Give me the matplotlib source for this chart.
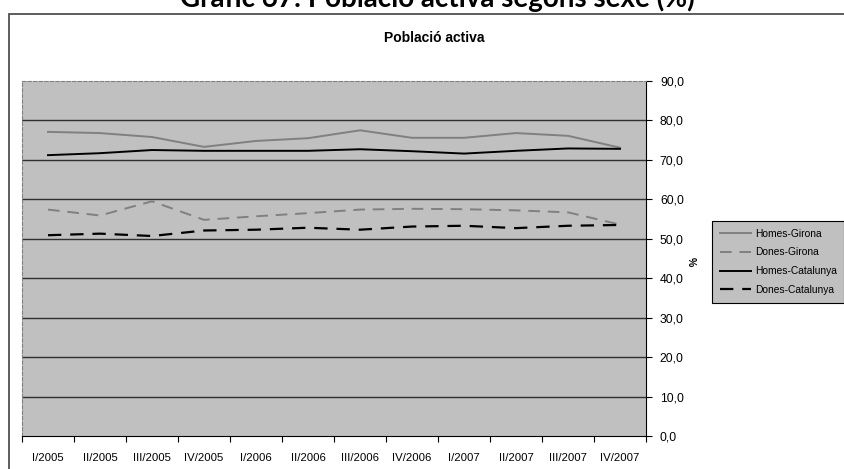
import matplotlib
matplotlib.use("Agg")
import matplotlib.pyplot as plt
from matplotlib.patches import Rectangle
import numpy as np

quarters = ["I/2005", "II/2005", "III/2005", "IV/2005", "I/2006", "II/2006",
            "III/2006", "IV/2006", "I/2007", "II/2007", "III/2007", "IV/2007"]
homes_girona = [77.1, 76.8, 75.8, 73.3, 74.8, 75.5, 77.5, 75.6, 75.6, 76.8, 76.1, 73.1]
dones_girona = [57.4, 55.9, 59.5, 54.8, 55.7, 56.5, 57.4, 57.6, 57.5, 57.2, 56.7, 53.6]
homes_cat = [71.2, 71.7, 72.5, 72.3, 72.3, 72.3, 72.7, 72.2, 71.6, 72.3, 72.9, 72.8]
dones_cat = [50.9, 51.3, 50.7, 52.1, 52.3, 52.8, 52.3, 53.1, 53.3, 52.7, 53.3, 53.5]
yticks = np.arange(0, 100, 10)

W, H = 845, 469
fig = plt.figure(figsize=(W / 100, H / 100), dpi=100)
fig.patch.set_facecolor("white")

# outer chart frame
fig.patches.append(Rectangle((9 / W, -0.01), 1.0, (H - 14) / H + 0.01,
                             transform=fig.transFigure, fill=False,
                             edgecolor="#505050", linewidth=1.3))

fig.text(437 / W, 1 - 7 / H, "Gràfic 67: Població activa segons sexe (%)",
         ha="center", va="baseline", fontsize=20, fontweight="bold", family="Lato")
fig.text(434 / W, 1 - 38.5 / H, "Població activa", ha="center", va="center",
         fontsize=10, fontweight="bold", family="Liberation Sans")

ax = fig.add_axes([22 / W, 33 / H, (646 - 22) / W, (436 - 81) / H])
ax.set_facecolor("#c0c0c0")
x = np.arange(len(quarters))

ax.plot(x, homes_girona, color="#808080", lw=1.4, label="Homes-Girona")
ax.plot(x, dones_girona, color="#808080", lw=1.4, ls=(0, (6, 4)), label="Dones-Girona")
ax.plot(x, homes_cat, color="black", lw=1.4, label="Homes-Catalunya")
ax.plot(x, dones_cat, color="black", lw=1.6, ls=(0, (6, 4)), label="Dones-Catalunya")

for v in yticks[1:-1]:
    ax.axhline(v, color="#303030", lw=1.0, zorder=0.5)

ax.set_xlim(-0.5, len(quarters) - 0.5)
ax.set_ylim(0, 90)
ax.set_xticks(np.arange(-0.5, len(quarters), 1.0))
ax.set_xticklabels([])
ax.set_xticks(x, minor=True)
ax.set_xticklabels(quarters, minor=True, fontsize=8.2, family="Liberation Sans")
ax.tick_params(axis="x", which="major", length=4, direction="out", width=0.8)
ax.tick_params(axis="x", which="minor", length=0, pad=12)

ax.yaxis.tick_right()
ax.set_yticks(yticks)
ax.set_yticklabels([f"{v:.1f}".replace(".", ",") for v in yticks],
                   fontsize=8.7, family="Liberation Sans")
ax.tick_params(axis="y", length=4, direction="out", width=0.8, pad=6)

ax.spines["left"].set_linestyle((0, (3, 2)))
ax.spines["left"].set_color("#808080")
ax.spines["top"].set_linestyle((0, (3, 2)))
ax.spines["top"].set_color("#808080")
ax.spines["right"].set_color("black")
ax.spines["bottom"].set_color("black")

fig.text(691 / W, 1 - 262 / H, "%", rotation=270, ha="center", va="center",
         fontsize=7.5, fontweight="bold", family="Liberation Sans")

leg = fig.legend(loc="upper left", bbox_to_anchor=(712 / W, 1 - 221 / H),
                 frameon=True, fancybox=False, handlelength=3.0, handletextpad=0.4,
                 borderpad=0.75, labelspacing=0.85, borderaxespad=0,
                 prop={"family": "Liberation Sans", "size": 7.4})
leg.get_frame().set_facecolor("#c0c0c0")
leg.get_frame().set_edgecolor("black")
leg.get_frame().set_alpha(1)
leg.get_frame().set_linewidth(0.8)

fig.savefig("out.png", dpi=100)
